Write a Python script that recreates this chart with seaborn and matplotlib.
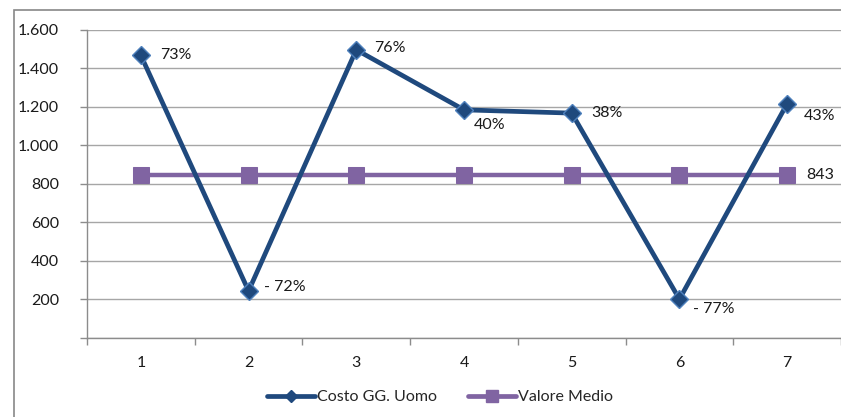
import matplotlib
matplotlib.use("Agg")
import matplotlib.pyplot as plt
import matplotlib.patches as mpatches
from matplotlib.lines import Line2D
import seaborn as sns
import pandas as pd

# ---- data ----
categories = [1, 2, 3, 4, 5, 6, 7]
costo = [1466, 242, 1495, 1183, 1166, 199, 1215]
media = [843, 843, 843, 843, 843, 843, 843]
pct_labels = ["73%", "- 72%", "76%", "40%", "38%", "- 77%", "43%"]
media_label = "843"
y_ticks = [0, 200, 400, 600, 800, 1000, 1200, 1400, 1600]
y_tick_labels = ["", "200", "400", "600", "800", "1.000", "1.200", "1.400", "1.600"]
series_names = ["Costo GG. Uomo", "Valore Medio"]

sns.set_theme(style="white")
plt.rcParams["font.family"] = ["Lato", "DejaVu Sans"]

W, H = 841, 417
fig = plt.figure(figsize=(W / 100, H / 100), dpi=100)
ax = fig.add_axes([87 / W, 79.5 / H, (841 - 87) / W, (337.5 - 29.6) / H])

df = pd.DataFrame({"cat": categories, "costo": costo, "media": media})

blue = "#1F497D"
blue_edge = "#4F81BD"
purple = "#8064A2"
FS = 11.5

sns.lineplot(data=df, x="cat", y="media", ax=ax, color=purple, lw=3.2,
             marker="s", markersize=12, markeredgecolor=purple,
             markerfacecolor=purple, zorder=3)
sns.lineplot(data=df, x="cat", y="costo", ax=ax, color=blue, lw=3.4,
             marker="D", markersize=9, markeredgecolor=blue_edge,
             markeredgewidth=1, markerfacecolor=blue, zorder=4)

ax.set_xlim(0.5, 7.5)
ax.set_ylim(0, 1600)
ax.set_xlabel("")
ax.set_ylabel("")

ax.set_yticks(y_ticks)
ax.set_yticklabels(y_tick_labels)
ax.set_xticks(categories)
ax.set_xticklabels([str(c) for c in categories])
ax.set_xticks([c + 0.5 for c in [0] + categories], minor=True)

gray = "#8C8C8C"
ax.grid(axis="y", color="#A6A6A6", lw=1)
ax.grid(axis="x", visible=False)
for s in ["top", "right"]:
    ax.spines[s].set_visible(False)
for s in ["left", "bottom"]:
    ax.spines[s].set_color(gray)
    ax.spines[s].set_linewidth(1)

ax.tick_params(axis="y", which="major", left=True, length=5, color=gray,
               width=1, pad=15, labelsize=FS, labelcolor="#1a1a1a")
ax.tick_params(axis="x", which="major", bottom=False, length=0, pad=13,
               labelsize=FS, labelcolor="#1a1a1a")
ax.tick_params(axis="x", which="minor", bottom=True, length=5, color=gray,
               width=1)

# data labels (offsets in points)
offsets = [(14, 0), (11, 3), (13, 1), (7, -11), (14, 0), (10, -7), (12, -9)]
for x, y, lab, (dx, dy) in zip(categories, costo, pct_labels, offsets):
    ax.annotate(lab, (x, y), xytext=(dx, dy), textcoords="offset points",
                ha="left", va="center", fontsize=FS, color="#1a1a1a")
ax.annotate(media_label, (categories[-1], media[-1]), xytext=(14, 0),
            textcoords="offset points", ha="left", va="center",
            fontsize=FS, color="#1a1a1a")

# legend
handles = [
    Line2D([], [], color=blue, lw=3.4, marker="D", markersize=6,
           markerfacecolor=blue, markeredgecolor=blue),
    Line2D([], [], color=purple, lw=3.4, marker="s", markersize=8,
           markerfacecolor=purple, markeredgecolor=purple),
]
fig.legend(handles, series_names, loc="center", bbox_to_anchor=(440 / W, 1 - 397 / H),
           ncol=2, frameon=False, fontsize=FS, handlelength=3.0,
           handletextpad=0.1, columnspacing=2.0)

# outer chart border (cropped at right and bottom)
border = mpatches.Rectangle((14 / W, -0.05), 1.2, (H - 10) / H + 0.05,
                            transform=fig.transFigure, fill=False,
                            edgecolor="#888888", lw=1.2)
fig.patches.append(border)

fig.savefig("out.png", dpi=100)
